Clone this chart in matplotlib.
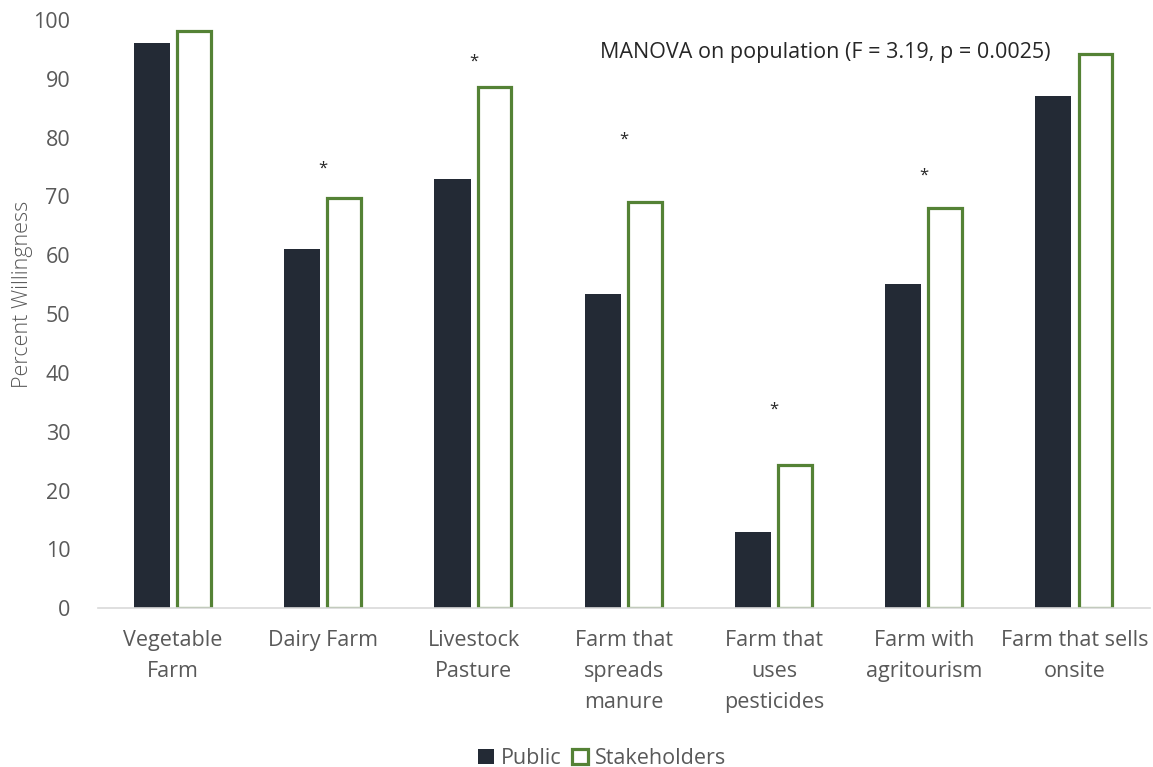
import numpy as np
import matplotlib.pyplot as plt

plt.rcParams['font.family'] = ['Open Sans', 'DejaVu Sans']

categories = ['Vegetable\nFarm', 'Dairy Farm', 'Livestock\nPasture',
              'Farm that\nspreads\nmanure', 'Farm that\nuses\npesticides',
              'Farm with\nagritourism', 'Farm that sells\nonsite']
public = [96.1, 61.1, 73.0, 53.4, 12.9, 55.1, 87.1]
stakeholders = [98.1, 69.7, 88.6, 69.0, 24.3, 68.0, 94.2]

# significance markers: category index and height of the star
star_idx = [1, 2, 3, 4, 5]
star_y = [74.8, 92.9, 79.6, 33.7, 73.5]

dark = '#232a35'
green = '#548235'
grey_text = '#595959'

fig = plt.figure(figsize=(11.53, 7.67), dpi=100)
ax = fig.add_axes([0.085, 0.207, 0.912, 0.767])

x = np.arange(len(categories))
w = 0.24
ax.bar(x - 0.14, public, width=w, color=dark, label='Public')
ax.bar(x + 0.14, stakeholders, width=w - 0.015, facecolor='white',
       edgecolor=green, linewidth=2.3, label='Stakeholders')

for i, y in zip(star_idx, star_y):
    ax.text(i, y, '*', ha='center', va='center', fontsize=12, color='#262626')

ax.text(0.692, 0.945, 'MANOVA on population (F = 3.19, p = 0.0025)',
        transform=ax.transAxes, ha='center', va='center', fontsize=15.5,
        color='#262626')

ax.set_xlim(-0.5, len(categories) - 0.5)
ax.set_ylim(0, 100)
ax.set_yticks(range(0, 101, 10))
ax.set_xticks(x)
ax.set_xticklabels(categories, fontsize=15.5, color=grey_text, linespacing=1.6)
ax.tick_params(axis='y', length=0, labelsize=15.5, labelcolor=grey_text, pad=20)
ax.tick_params(axis='x', length=0, pad=16)
ax.set_ylabel('Percent Willingness', fontsize=15.5, color=grey_text,
              fontweight='light')
ax.yaxis.set_label_coords(-0.062, 0.534)

for s in ['top', 'right', 'left']:
    ax.spines[s].set_visible(False)
ax.spines['bottom'].set_color('#d9d9d9')
ax.spines['bottom'].set_linewidth(1.2)

fig.legend(loc='lower center', bbox_to_anchor=(0.522, -0.028), ncol=2,
           frameon=False, fontsize=15.5, handlelength=0.75, handleheight=0.75,
           handletextpad=0.3, columnspacing=0.5, labelcolor=grey_text)

fig.savefig('out.png', dpi=100)
